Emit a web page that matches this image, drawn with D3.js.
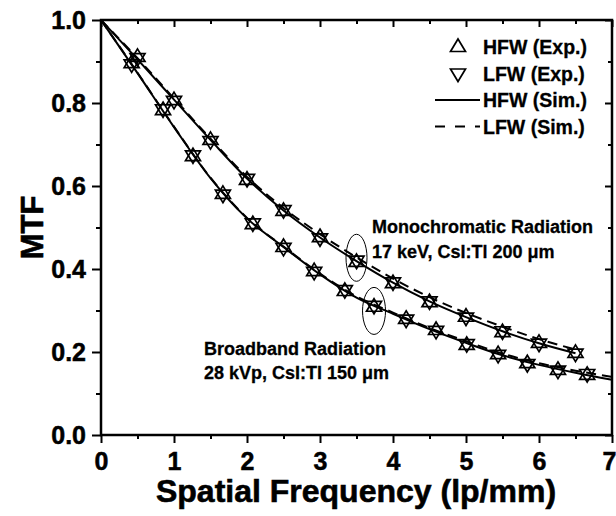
<!DOCTYPE html>
<html><head><meta charset="utf-8">
<script src="https://cdn.jsdelivr.net/npm/d3@7"></script>
<style>body{margin:0;background:#fff}svg{display:block}text{font-family:"Liberation Sans",Arial,sans-serif;font-weight:bold;fill:#000}</style>
</head><body><svg id="c" width="616" height="516"></svg>
<script>
// Experimental points
const freqMono = [0.5,1.0,1.5,2.0,2.5,3.0,3.5,4.0,4.5,5.0,5.5,6.0,6.5];
const monoHFW  = [0.911,0.807,0.711,0.615,0.540,0.477,0.417,0.366,0.320,0.285,0.248,0.222,0.198];
const monoLFW  = [0.908,0.805,0.708,0.617,0.542,0.474,0.420,0.368,0.322,0.283,0.250,0.220,0.196];
const freqBroad = [0.42,0.85,1.26,1.67,2.08,2.5,2.92,3.34,3.74,4.18,4.59,5.01,5.44,5.84,6.26,6.66];
const broadHFW  = [0.896,0.783,0.672,0.581,0.508,0.453,0.395,0.347,0.309,0.280,0.253,0.217,0.195,0.173,0.157,0.145];
const broadLFW  = [0.893,0.785,0.674,0.579,0.510,0.451,0.393,0.349,0.311,0.278,0.251,0.219,0.193,0.171,0.155,0.147];
// Simulation curves
const simFreq     = [0,0.5,1.0,1.5,2.0,2.5,3.0,3.5,4.0,4.5,5.0,5.5,6.0,6.5,7.0];
const simMonoHFW  = [1,0.905,0.808,0.711,0.618,0.541,0.476,0.419,0.367,0.322,0.284,0.250,0.221,0.197];
const simMonoLFW  = [1,0.908,0.811,0.714,0.622,0.547,0.484,0.428,0.377,0.332,0.294,0.261,0.231,0.206];
const simBroadHFW = [1,0.872,0.742,0.619,0.522,0.453,0.387,0.331,0.292,0.255,0.222,0.192,0.169,0.150,0.133];
const simBroadLFW = [1,0.873,0.743,0.620,0.523,0.454,0.389,0.334,0.295,0.258,0.226,0.196,0.173,0.155,0.140];
const xTicks = [0,1,2,3,4,5,6,7];
const yTicks = [0.0,0.2,0.4,0.6,0.8,1.0];
const legendLabels = ["HFW (Exp.)","LFW (Exp.)","HFW (Sim.)","LFW (Sim.)"];

const svg = d3.select("#c");
svg.append("rect").attr("width",616).attr("height",516).attr("fill","#fff");
const L=101,R=612,T=20,B=435;
const x = d3.scaleLinear().domain([0,7]).range([L,R]);
const y = d3.scaleLinear().domain([0,1]).range([B,T]);

const g = svg.append("g");
g.append("rect").attr("x",L).attr("y",T).attr("width",R-L).attr("height",B-T)
  .attr("fill","none").attr("stroke","#000").attr("stroke-width",2.5);

function drawTicks(axisGen, tf){
  const a = g.append("g").attr("transform",tf).call(axisGen);
  a.select(".domain").remove();
  a.selectAll("line").attr("stroke","#000").attr("stroke-width",2);
  return a;
}
const minorX = d3.range(0.5,7,1), minorY = d3.range(0.1,1,0.2);
const bx = drawTicks(d3.axisBottom(x).tickValues(xTicks).tickSize(8).tickPadding(9).tickFormat(d3.format("d")), `translate(0,${B})`);
bx.selectAll("text").style("font-size","25px").attr("stroke","#000").attr("stroke-width",0.5)
  .attr("text-anchor",d=>d===7?"end":"middle").attr("dx",d=>d===7?"4":null);
drawTicks(d3.axisBottom(x).tickValues(minorX).tickSize(4).tickFormat(""), `translate(0,${B})`);
const ly = drawTicks(d3.axisLeft(y).tickValues(yTicks).tickSize(9).tickPadding(6).tickFormat(d3.format(".1f")), `translate(${L},0)`);
ly.selectAll("text").style("font-size","25px").attr("stroke","#000").attr("stroke-width",0.5);
drawTicks(d3.axisLeft(y).tickValues(minorY).tickSize(5).tickFormat(""), `translate(${L},0)`);
drawTicks(d3.axisTop(x).tickValues(xTicks).tickSize(-7).tickFormat(""), `translate(0,${T})`);
drawTicks(d3.axisTop(x).tickValues(minorX).tickSize(-4).tickFormat(""), `translate(0,${T})`);
drawTicks(d3.axisRight(y).tickValues(yTicks).tickSize(-7).tickFormat(""), `translate(${R},0)`);
drawTicks(d3.axisRight(y).tickValues(minorY).tickSize(-4).tickFormat(""), `translate(${R},0)`);

svg.append("text").attr("x",356).attr("y",502).attr("text-anchor","middle")
  .attr("stroke","#000").attr("stroke-width",0.6)
  .style("font-size","32px").text("Spatial Frequency (lp/mm)");
svg.append("text").attr("transform",`translate(43,${(T+B)/2}) rotate(-90)`).attr("text-anchor","middle")
  .attr("stroke","#000").attr("stroke-width",0.6)
  .style("font-size","31px").text("MTF");

const line = d3.line().x(d=>x(d[0])).y(d=>y(d[1])).curve(d3.curveMonotoneX);
function simLine(vals, dashed){
  g.append("path").datum(vals.map((v,i)=>[simFreq[i],v])).attr("d",line)
   .attr("fill","none").attr("stroke","#000").attr("stroke-width",2)
   .attr("stroke-dasharray",dashed?"10,6":null);
}
simLine(simMonoHFW,false); simLine(simMonoLFW,true);
simLine(simBroadHFW,false); simLine(simBroadLFW,true);

const up = "M0,-8L7.5,4.5L-7.5,4.5Z", down = "M0,8L7.5,-4.5L-7.5,-4.5Z";
function pts(fx, vals, shape){
  g.selectAll(null).data(vals.map((v,i)=>[fx[i],v])).enter().append("path")
   .attr("d",shape).attr("transform",d=>`translate(${x(d[0])},${y(d[1])})`)
   .attr("fill","none").attr("stroke","#000").attr("stroke-width",1.7);
}
pts(freqMono,monoHFW,up); pts(freqMono,monoLFW,down);
pts(freqBroad,broadHFW,up); pts(freqBroad,broadLFW,down);

g.append("ellipse").attr("cx",x(3.5)).attr("cy",y(0.427)).attr("rx",10.5).attr("ry",23.5)
  .attr("fill","none").attr("stroke","#000").attr("stroke-width",1);
g.append("ellipse").attr("cx",x(3.74)).attr("cy",y(0.299)).attr("rx",11.5).attr("ry",23.5)
  .attr("fill","none").attr("stroke","#000").attr("stroke-width",1);

const ann = [["Monochromatic Radiation",372,233],["17 keV, CsI:Tl 200 \u03bcm",372,258],
             ["Broadband Radiation",204,355],["28 kVp, CsI:Tl 150 \u03bcm",204,379]];
ann.forEach(a=>svg.append("text").attr("x",a[1]).attr("y",a[2]).style("font-size","18px")
  .attr("stroke","#000").attr("stroke-width",0.3).text(a[0]));

const lg = svg.append("g");
const ly0 = 47, dy = 26.5;
legendLabels.forEach((t,i)=>{
  const yy = ly0 + i*dy;
  lg.append("text").attr("x",483).attr("y",yy+7).style("font-size","19.5px")
    .attr("stroke","#000").attr("stroke-width",0.3).text(t);
  if(i===0) lg.append("path").attr("d",up).attr("transform",`translate(458,${yy})`).attr("fill","none").attr("stroke","#000").attr("stroke-width",1.7);
  if(i===1) lg.append("path").attr("d",down).attr("transform",`translate(458,${yy})`).attr("fill","none").attr("stroke","#000").attr("stroke-width",1.7);
  if(i>=2) lg.append("line").attr("x1",435).attr("x2",480).attr("y1",yy).attr("y2",yy)
     .attr("stroke","#000").attr("stroke-width",2).attr("stroke-dasharray",i===3?"10,10":null);
});
</script></body></html>
